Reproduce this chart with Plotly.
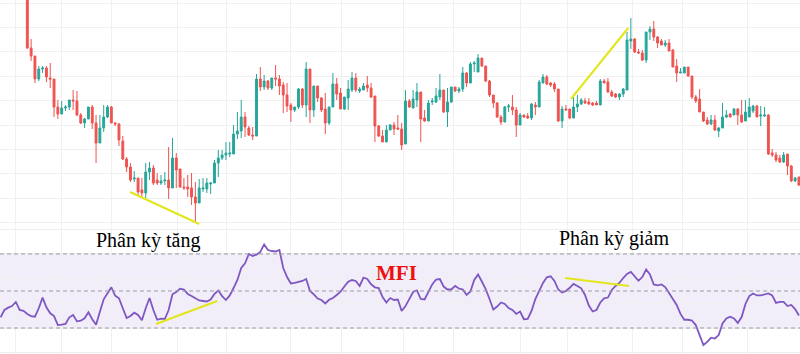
import plotly.graph_objects as go

# ---------------- price data (one candle per session) ----------------
open_ = [245, 182, 174, 151, 161, 162, 152, 151, 123, 116,
         122, 123, 130, 129, 115, 107, 111, 123, 107, 87,
         102, 113, 123, 107, 106, 89, 71, 63, 51, 52,
         40, 37, 58, 62, 50, 47, 49, 50, 42, 72,
         61, 43, 43, 42, 33, 27, 41, 41, 46, 47,
         67, 72, 75, 76, 76, 96, 99, 113, 102, 95,
         94, 151, 143, 149, 142, 152, 151, 145, 135, 125,
         120, 123, 141, 125, 161, 120, 144, 132, 121, 107,
         123, 146, 137, 121, 132, 140, 152, 139, 140, 145,
         142, 134, 104, 94, 88, 100, 105, 102, 101, 86,
         129, 122, 130, 138, 112, 109, 128, 128, 133, 140,
         118, 128, 143, 139, 141, 157, 147, 166, 158, 172,
         164, 149, 135, 127, 113, 108, 123, 123, 120, 105,
         115, 114, 112, 125, 123, 147, 153, 147, 146, 141,
         109, 121, 121, 112, 123, 126, 129, 128, 127, 127,
         125, 149, 148, 138, 136, 133, 136, 140, 189, 191,
         178, 177, 170, 198, 201, 193, 189, 185, 187, 180,
         164, 157, 157, 163, 154, 133, 131, 118, 110, 106,
         110, 99, 102, 113, 116, 115, 121, 115, 109, 113,
         119, 124, 114, 114, 115, 77, 75, 72, 68, 76,
         64, 49, 53]
high = [250, 191, 174, 164, 164, 164, 167, 151, 130, 129,
        125, 130, 140, 139, 117, 112, 123, 125, 115, 115,
        125, 125, 124, 108, 107, 94, 73, 67, 59, 52,
        52, 67, 68, 65, 57, 55, 58, 83, 92, 77,
        61, 52, 55, 57, 48, 51, 52, 52, 48, 70,
        80, 80, 88, 88, 105, 118, 130, 118, 104, 103,
        156, 163, 155, 150, 152, 165, 155, 148, 147, 127,
        123, 142, 142, 168, 161, 144, 144, 133, 137, 123,
        157, 152, 142, 133, 150, 158, 157, 143, 147, 154,
        147, 134, 105, 100, 105, 106, 108, 115, 107, 140,
        131, 140, 147, 138, 120, 130, 132, 142, 156, 140,
        142, 143, 143, 143, 163, 158, 168, 169, 176, 172,
        164, 150, 135, 128, 115, 124, 126, 135, 123, 117,
        115, 117, 127, 128, 150, 156, 155, 148, 148, 141,
        124, 125, 121, 133, 135, 132, 132, 132, 128, 129,
        151, 151, 152, 140, 137, 137, 142, 198, 212, 192,
        181, 180, 198, 204, 209, 194, 191, 190, 191, 181,
        171, 162, 163, 163, 154, 135, 141, 118, 113, 115,
        115, 103, 127, 120, 117, 122, 122, 130, 130, 132,
        125, 125, 124, 123, 116, 81, 78, 75, 78, 76,
        65, 53, 53]
low = [181, 169, 147, 149, 157, 148, 142, 113, 111, 116,
       119, 120, 120, 114, 106, 102, 111, 101, 67, 87,
       98, 112, 107, 104, 84, 70, 58, 48, 48, 35,
       33, 32, 50, 45, 45, 45, 45, 31, 42, 42,
       42, 40, 33, 25, 8, 27, 38, 37, 36, 47,
       53, 70, 70, 73, 76, 91, 92, 93, 94, 90,
       94, 139, 140, 140, 140, 144, 135, 117, 118, 108,
       118, 121, 122, 113, 107, 113, 128, 118, 96, 105,
       123, 130, 121, 120, 120, 138, 138, 137, 140, 138,
       132, 88, 93, 88, 88, 100, 95, 100, 80, 86,
       122, 122, 123, 88, 108, 109, 125, 127, 130, 117,
       103, 127, 138, 137, 138, 143, 147, 158, 158, 163,
       148, 133, 122, 112, 105, 108, 118, 115, 93, 105,
       112, 111, 110, 115, 123, 147, 145, 143, 138, 108,
       102, 120, 111, 112, 118, 125, 126, 125, 124, 125,
       125, 147, 137, 133, 132, 130, 133, 140, 181, 177,
       176, 169, 167, 190, 189, 182, 185, 183, 179, 163,
       148, 157, 157, 153, 131, 127, 118, 108, 105, 105,
       99, 93, 102, 112, 113, 115, 105, 107, 109, 113,
       117, 113, 104, 113, 75, 73, 68, 67, 67, 55,
       48, 48, 44]
close = [182, 174, 151, 161, 162, 153, 151, 123, 116, 122,
         123, 130, 129, 115, 107, 111, 123, 107, 87, 102,
         113, 123, 107, 106, 90, 71, 63, 50, 52, 38,
         37, 58, 62, 47, 47, 49, 50, 42, 72, 60,
         43, 42, 41, 33, 27, 42, 42, 47, 47, 67,
         72, 75, 77, 77, 96, 99, 113, 103, 95, 94,
         151, 143, 149, 142, 152, 151, 144, 135, 124, 120,
         123, 141, 125, 161, 120, 144, 132, 120, 107, 123,
         146, 136, 121, 133, 141, 152, 140, 141, 144, 142,
         133, 104, 94, 88, 100, 105, 101, 101, 85, 129,
         123, 131, 138, 111, 109, 127, 129, 134, 140, 118,
         128, 143, 139, 141, 157, 147, 166, 167, 172, 164,
         149, 135, 127, 113, 108, 123, 124, 120, 105, 115,
         113, 112, 126, 123, 148, 153, 146, 145, 141, 109,
         121, 120, 112, 123, 126, 130, 127, 126, 125, 125,
         149, 147, 138, 134, 133, 136, 141, 190, 191, 178,
         177, 170, 198, 201, 193, 187, 185, 187, 179, 163,
         157, 158, 163, 154, 133, 129, 118, 109, 106, 110,
         100, 102, 113, 115, 113, 121, 115, 108, 118, 123,
         124, 113, 115, 115, 76, 75, 70, 68, 75, 64,
         49, 52, 45]

# MFI starts 7 sessions before the first visible candle
mfi_start = -7
mfi = [28.7, 34.6, 36.5, 37.8, 41.1, 34.6, 34.0,
       31.4, 29.7, 29.2, 36.0, 44.6, 36.8, 31.9, 29.7, 22.4, 22.7,
       23.3, 28.7, 30.6, 25.4, 25.9, 27.9, 32.7, 27.1, 22.7, 33.2,
       43.3, 48.1, 53.0, 46.2, 44.1, 36.0, 28.1, 29.7, 32.4, 30.6,
       26.3, 36.0, 44.3, 34.6, 26.7, 27.6, 27.3, 34.6, 47.3, 49.2,
       51.9, 51.2, 47.6, 45.9, 44.3, 42.3, 41.9, 41.5, 43.1, 47.6,
       50.4, 45.9, 42.7, 46.4, 52.4, 58.9, 68.6, 72.4, 80.0, 78.4,
       79.4, 81.6, 87.7, 83.2, 82.4, 82.0, 83.2, 68.6, 61.3, 56.1,
       56.5, 57.3, 58.1, 59.7, 50.0, 47.2, 43.9, 42.7, 39.9, 42.9,
       44.3, 46.8, 49.4, 53.6, 57.5, 58.9, 58.1, 54.1, 60.9, 59.7,
       55.4, 53.0, 52.4, 45.1, 40.7, 44.3, 42.7, 43.1, 33.8, 37.8,
       43.9, 49.2, 50.4, 43.5, 43.1, 49.2, 55.3, 59.3, 59.7, 53.6,
       51.2, 51.2, 54.1, 52.0, 51.2, 46.8, 49.6, 58.9, 63.4, 57.7,
       51.6, 43.5, 35.0, 37.4, 40.7, 39.5, 36.2, 34.6, 31.4, 33.4,
       27.1, 27.3, 33.8, 43.5, 50.0, 56.5, 61.1, 61.9, 58.1, 51.2,
       48.8, 50.0, 52.6, 55.7, 54.1, 52.2, 46.8, 38.2, 33.4, 34.6,
       40.7, 44.1, 44.7, 50.8, 54.1, 56.5, 60.5, 63.8, 65.4, 61.8,
       58.3, 61.3, 67.4, 63.4, 55.3, 54.6, 55.3, 53.2, 48.4, 42.7,
       38.7, 31.4, 26.7, 26.7, 26.1, 22.4, 13.5, 6.2, 8.7, 12.2,
       11.5, 14.3, 23.7, 27.7, 29.2, 27.7, 24.1, 28.9, 39.5, 45.9,
       48.0, 46.4, 46.4, 47.0, 48.0, 46.4, 40.3, 41.1, 41.1, 37.8,
       38.7, 35.4, 30.1]

# divergence trend lines (session index, value)
bull_price_x, bull_price_y = [26.9, 45.0], [38, 6]
bear_price_x, bear_price_y = [142.3, 157.3], [131, 202]
bull_mfi_x, bull_mfi_y = [33.7, 49.7], [23.3, 41.9]
bear_mfi_x, bear_mfi_y = [140.8, 157.5], [60.5, 54.1]

labels = ["Phân kỳ tăng", "Phân kỳ giảm", "MFI"]

idx = list(range(len(open_)))
mfi_idx = list(range(mfi_start, mfi_start + len(mfi)))

UP, DOWN = "#26a69a", "#ef5350"
YEL = "#e2e61a"
GRID = "#f0f0f0"

fig = go.Figure()
fig.add_trace(go.Candlestick(
    x=idx, open=open_, high=high, low=low, close=close,
    increasing=dict(line=dict(color=UP, width=1), fillcolor=UP),
    decreasing=dict(line=dict(color=DOWN, width=1), fillcolor=DOWN),
    whiskerwidth=0, showlegend=False, hoverinfo="skip",
    xaxis="x", yaxis="y"))
fig.add_trace(go.Scatter(x=mfi_idx, y=mfi, mode="lines",
                         line=dict(color="#7e57c2", width=1.8),
                         showlegend=False, xaxis="x2", yaxis="y2"))
for xs, ys, ax in [(bull_price_x, bull_price_y, ("x", "y")),
                   (bear_price_x, bear_price_y, ("x", "y")),
                   (bull_mfi_x, bull_mfi_y, ("x2", "y2")),
                   (bear_mfi_x, bear_mfi_y, ("x2", "y2"))]:
    fig.add_trace(go.Scatter(x=xs, y=ys, mode="lines",
                             line=dict(color=YEL, width=2),
                             showlegend=False, xaxis=ax[0], yaxis=ax[1]))

grid_x = [-2.96, 9.08, 21.91, 39.19, 52.02, 69.03, 82.12, 98.61,
          111.70, 128.98, 141.54, 158.56, 171.39, 188.66]
xr = [-7.147, 202.28]
xcommon = dict(range=xr, tickvals=grid_x, showticklabels=False, ticks="",
               showgrid=True, gridcolor=GRID, gridwidth=1, zeroline=False,
               showline=False, fixedrange=True)

serif = "Liberation Serif, Times New Roman, serif"
fig.update_layout(
    width=800, height=354,
    margin=dict(l=0, r=0, t=0, b=0),
    paper_bgcolor="white", plot_bgcolor="white",
    xaxis=dict(domain=[0, 1], anchor="y", rangeslider=dict(visible=False), **xcommon),
    xaxis2=dict(domain=[0, 1], anchor="y2", **xcommon),
    yaxis=dict(domain=[0.3616, 1], range=[4, 230], tick0=7.4, dtick=24.4,
               showticklabels=False, ticks="", showgrid=True, gridcolor=GRID,
               zeroline=False, showline=False),
    yaxis2=dict(domain=[0, 0.3588], range=[-1.05, 101.86], tick0=0, dtick=20,
                showticklabels=False, ticks="", showgrid=True, gridcolor=GRID,
                zeroline=False, showline=False),
    shapes=[
        dict(type="rect", xref="x2 domain", yref="y2", x0=0, x1=1, y0=20, y1=80,
             fillcolor="rgba(126,87,194,0.1)", line=dict(width=0), layer="below"),
    ] + [
        dict(type="line", xref="x2 domain", yref="y2", x0=0, x1=1, y0=v, y1=v,
             line=dict(color="#9a9aa2", width=1, dash="4px,3px"), layer="above")
        for v in (20, 50, 80)
    ],
    annotations=[
        dict(text=labels[0], xref="paper", yref="paper", x=0.185, y=0.322,
             showarrow=False, xanchor="center", yanchor="middle",
             font=dict(family=serif, size=20, color="#000")),
        dict(text=labels[1], xref="paper", yref="paper", x=0.7675, y=0.327,
             showarrow=False, xanchor="center", yanchor="middle",
             font=dict(family=serif, size=20, color="#000")),
        dict(text="<b>" + labels[2] + "</b>", xref="paper", yref="paper", x=0.496, y=0.2288,
             showarrow=False, xanchor="center", yanchor="middle",
             font=dict(family=serif, size=21, color="#ee1111")),
    ],
)

fig.write_html("out.html", config={"displayModeBar": False})
